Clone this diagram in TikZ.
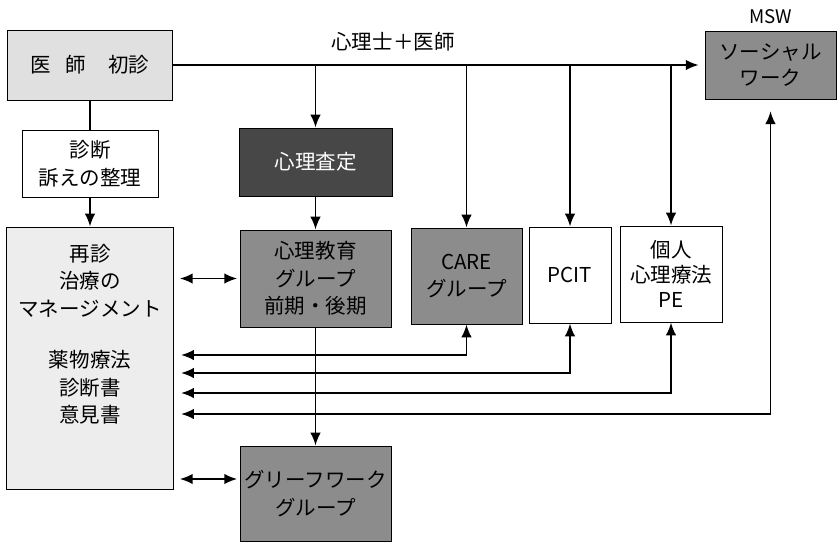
\documentclass[tikz,border=0pt]{standalone}
\usepackage{fontspec}
\setmainfont{Noto Sans CJK JP}
\usepackage{tikz}
\usetikzlibrary{positioning,arrows.meta}
\newlength{\px}
\setlength{\px}{0.03cm}

\begin{document}
\begin{tikzpicture}[x=0.03cm,y=-0.03cm,
  every node/.style={font=\fontsize{17.5}{23.5}\selectfont},
  box/.style={draw,line width=0.8pt,align=center,inner sep=0pt},
  lite/.style={box,fill=black!12},
  mid/.style={box,fill=black!45},
  dark/.style={box,fill=black!72,text=white},
  arr/.style={line width=1.6pt,-{Latex[length=11pt,width=9pt]}},
  dbl/.style={line width=1.6pt,{Latex[length=11pt,width=9pt]}-{Latex[length=11pt,width=9pt]}}]

\useasboundingbox (0,0) rectangle (837,546);

\node (shoshin) [lite,minimum width=165\px,minimum height=70\px] at (90,65) {医\hspace{0.7em}師\hspace{1.1em}初診};
\node (shindan) [box,minimum width=136\px,minimum height=67\px] at (90,163.5) {診断\\訴えの整理};
\node (saishin) [lite,fill=black!7,minimum width=167\px,minimum height=262\px] at (90,358) {};
\node (saishintxt) [below=0.52cm of saishin.north,align=center,inner sep=0pt]
  {再診\\治療の\\マネージメント\\[0.72cm]薬物療法\\診断書\\意見書};

\node (satei) [dark,minimum width=153\px,minimum height=68\px] at (315.5,162) {心理査定};
\node (kyoiku) [mid,minimum width=151\px,minimum height=97\px] at (315.5,278.5) {心理教育\\グループ\\前期・後期};
\node (grief) [mid,minimum width=151\px,minimum height=95\px] at (315.5,493.5) {グリーフワーク\\グループ};
\node (care) [mid,minimum width=111\px,minimum height=96\px] at (466.5,276) {CARE\\グループ};
\node (pcit) [box,minimum width=82\px,minimum height=96\px] at (570,275) {PCIT};
\node (kojin) [box,minimum width=102\px,minimum height=96\px,font=\fontsize{17.5}{21.5}\selectfont] at (671,274) {個人\\心理療法\\PE};
\node (msw) [mid,minimum width=131\px,minimum height=68\px,font=\fontsize{17.5}{21.5}\selectfont] at (770.5,65) {ソーシャル\\ワーク};
\node (mswlbl) [above=2pt of msw,font=\fontsize{16}{18}\selectfont] {MSW};
\node (team) at (393,42) {心理士＋医師};

\draw[arr,shorten >=5pt] (shoshin) -- (msw);
\draw[arr] (satei.north |- shoshin.east) -- (satei);
\draw[arr] (care.north |- shoshin.east) -- (care);
\draw[arr] (pcit.north |- shoshin.east) -- (pcit);
\draw[arr] (kojin.north |- shoshin.east) -- (kojin);

\draw[line width=1.6pt] (shoshin) -- (shindan);
\draw[arr] (shindan) -- (saishin);
\draw[arr] (satei) -- (kyoiku);
\draw[arr] (kyoiku) -- (grief);

\coordinate (gy) at (0,479);
\draw[dbl,shorten <=5pt,shorten >=2pt] (saishin.east |- kyoiku.west) -- (kyoiku.west);
\draw[dbl,shorten <=5pt,shorten >=2pt] (saishin.east |- gy) -- (grief.west |- gy);

\coordinate (f1) at (0,355);
\coordinate (f2) at (0,373);
\coordinate (f3) at (0,393);
\coordinate (f4) at (0,414);
\draw[dbl,shorten <=6pt] (saishin.east |- f1) -| (care.south);
\draw[dbl,shorten <=6pt] (saishin.east |- f2) -| (pcit.south);
\draw[dbl,shorten <=6pt] (saishin.east |- f3) -| (kojin.south);
\draw[dbl,shorten <=6pt,shorten >=10pt] (saishin.east |- f4) -| (msw.south);

\end{tikzpicture}
\end{document}
